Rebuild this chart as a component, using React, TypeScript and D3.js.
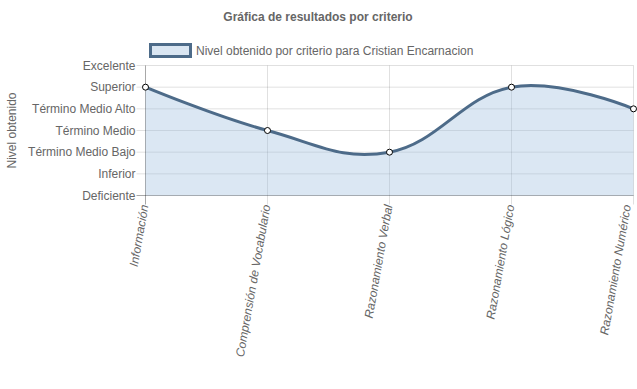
import { useEffect, useRef } from 'react';
import * as d3 from "d3";

const levels = ["Deficiente", "Inferior", "Término Medio Bajo", "Término Medio", "Término Medio Alto", "Superior", "Excelente"];
const criteria = ["Información", "Comprensión de Vocabulario", "Razonamiento Verbal", "Razonamiento Lógico", "Razonamiento Numérico"];
const results = ["Superior", "Término Medio", "Término Medio Bajo", "Superior", "Término Medio Alto"];

const seriesName = "Nivel obtenido por criterio para Cristian Encarnacion";

export default function App() {
  const chartRef = useRef<SVGSVGElement>(null);

  useEffect(() => {
    if (!chartRef.current) return;
    const svg = d3.select(chartRef.current);
    svg.selectAll("*").remove();

    const width = 637;
    const height = 389;
    const marginLeft = 145.5;
    const marginRight = 3.5;
    const marginTop = 65.5;
    const plotBottom = 195.5;
    const font = "'Liberation Sans', Arial, sans-serif";
    const textColor = "#666";
    const gridColor = "rgba(0,0,0,0.12)";
    const lineColor = "#4d6b89";
    const fillColor = "rgba(151,187,221,0.35)";

    const x = d3.scalePoint<string>()
      .domain(criteria)
      .range([marginLeft, width - marginRight]);

    const y = d3.scalePoint<string>()
      .domain(levels)
      .range([plotBottom, marginTop]);

    svg.attr("width", width).attr("height", height)
      .style("display", "block")
      .style("font-family", font);

    // Title
    svg.append("text")
      .attr("x", 318)
      .attr("y", 21)
      .attr("text-anchor", "middle")
      .attr("font-size", 12)
      .attr("font-weight", "bold")
      .attr("fill", textColor)
      .text("Gráfica de resultados por criterio");

    // Legend
    svg.append("rect")
      .attr("x", 150.5).attr("y", 44.5)
      .attr("width", 40).attr("height", 12)
      .attr("fill", "#dae6f2")
      .attr("stroke", lineColor)
      .attr("stroke-width", 3);
    svg.append("text")
      .attr("x", 196).attr("y", 54.5)
      .attr("font-size", 12)
      .attr("fill", textColor)
      .text(seriesName);

    // Horizontal grid + y ticks
    const yAxis = svg.append("g");
    levels.forEach(l => {
      yAxis.append("line")
        .attr("x1", marginLeft - 9).attr("x2", width - marginRight)
        .attr("y1", y(l)!).attr("y2", y(l)!)
        .attr("stroke", gridColor);
      yAxis.append("text")
        .attr("x", marginLeft - 10)
        .attr("y", y(l)!)
        .attr("dy", "0.35em")
        .attr("text-anchor", "end")
        .attr("font-size", 12)
        .attr("fill", textColor)
        .text(l);
    });

    // Vertical grid + x ticks (last label kept inside the page)
    const xAxis = svg.append("g");
    criteria.forEach(c => {
      xAxis.append("line")
        .attr("x1", x(c)!).attr("x2", x(c)!)
        .attr("y1", marginTop).attr("y2", plotBottom + 9)
        .attr("stroke", gridColor);
      const lx = Math.min(x(c)! + 3, width - 6);
      xAxis.append("text")
        .attr("transform", `translate(${lx},${plotBottom + 10}) rotate(-80)`)
        .attr("text-anchor", "end")
        .attr("font-size", 12)
        .attr("font-style", "italic")
        .attr("fill", textColor)
        .text(c);
    });

    // Axis borders
    svg.append("line")
      .attr("x1", marginLeft).attr("x2", marginLeft)
      .attr("y1", marginTop).attr("y2", plotBottom + 9)
      .attr("stroke", "rgba(0,0,0,0.25)");
    svg.append("line")
      .attr("x1", marginLeft - 9).attr("x2", width - marginRight)
      .attr("y1", plotBottom).attr("y2", plotBottom)
      .attr("stroke", "rgba(0,0,0,0.25)");

    // Y axis label
    svg.append("text")
      .attr("transform", `translate(16,${(marginTop + plotBottom) / 2}) rotate(-90)`)
      .attr("text-anchor", "middle")
      .attr("font-size", 12)
      .attr("fill", textColor)
      .text("Nivel obtenido");

    const data = criteria.map((c, i) => ({ c, v: results[i] }));
    const curve = d3.curveCardinal.tension(-0.2);

    svg.append("path")
      .datum(data)
      .attr("fill", fillColor)
      .attr("d", d3.area<{ c: string; v: string }>()
        .x(d => x(d.c)!)
        .y0(plotBottom)
        .y1(d => y(d.v)!)
        .curve(curve));

    svg.append("path")
      .datum(data)
      .attr("fill", "none")
      .attr("stroke", lineColor)
      .attr("stroke-width", 3)
      .attr("d", d3.line<{ c: string; v: string }>()
        .x(d => x(d.c)!)
        .y(d => y(d.v)!)
        .curve(curve));

    svg.append("g")
      .selectAll("circle")
      .data(data)
      .join("circle")
      .attr("cx", d => x(d.c)!)
      .attr("cy", d => y(d.v)!)
      .attr("r", 3)
      .attr("fill", "#fff")
      .attr("stroke", "#000")
      .attr("stroke-width", 1);
  }, []);

  return (
    <div style={{ position: "absolute", left: 0, top: 0, width: 637, height: 389, overflow: "hidden" }}>
      <svg ref={chartRef}></svg>
    </div>
  );
}
